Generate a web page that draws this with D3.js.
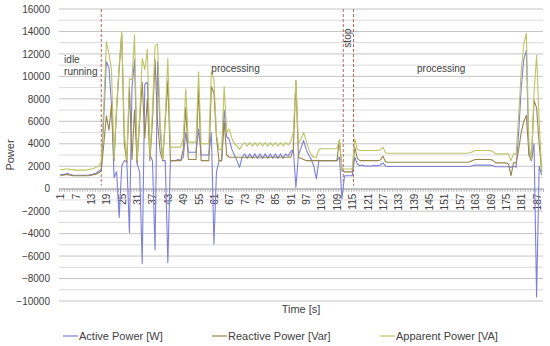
<!DOCTYPE html>
<html>
<head>
<meta charset="utf-8">
<script src="https://cdn.jsdelivr.net/npm/d3@7"></script>
<style>
  body { margin: 0; background: #fff; }
  text { font-family: "Liberation Sans", Arial, sans-serif; fill: #404040; }
</style>
</head>
<body>
<div class="chart"></div>
<script>
// one value per second
const activePower = [
  1250,1250,1300,1350,1250,1200,1200,1200,1200,1200,
  1200,1200,1250,1300,1400,1550,1700,6400,11300,10800,
  7500,1000,1500,-2570,2000,2500,2400,-3900,9000,11500,
  2200,1500,-6680,9300,9500,3000,2500,-5450,11300,5000,
  2500,2500,-6600,2500,2500,2500,2600,2500,2800,5000,
  3250,3250,3250,3250,5300,3000,3000,3000,3000,5000,
  -4950,1500,2500,2500,7000,4600,4400,3500,3000,2500,
  1900,2800,3100,2700,3100,2700,3100,2700,3100,2700,
  3100,2700,3100,2700,3100,2700,3100,2700,3100,2900,
  3300,3500,120,3000,3600,4300,3500,3000,2600,2000,
  870,2500,2500,2500,2500,2500,2500,2500,2500,2800,
  -920,1150,1150,1150,1150,2800,2200,2050,2100,2000,
  2050,2000,2050,2050,2050,2100,2300,2000,1970,1970,
  1970,1970,1970,1970,1970,1970,1970,1970,1970,1970,
  1970,1970,1970,1970,1970,1970,1970,1970,1970,1970,
  1970,1970,1970,1970,1970,1970,1970,1970,1970,1970,
  2000,2050,2100,2100,2100,2100,2100,2100,2100,2050,
  1950,1950,1950,1950,1950,1950,1900,2000,1900,5000,
  9000,11500,12340,3000,2500,4000,-9650,2000,1200
]
const reactivePower = [
  1200,1200,1250,1250,1200,1150,1150,1150,1150,1150,
  1150,1150,1200,1250,1300,1400,1600,4000,6500,5200,
  7500,2500,7000,10700,13800,4000,2300,9000,2600,7000,
  2300,6000,9500,4500,8000,2500,6000,11500,5800,3300,
  2500,6000,9600,2500,2500,2500,2500,2500,3500,7200,
  2600,2600,2600,2600,9000,2500,2500,2500,2500,9100,
  8500,4500,2500,2500,6000,3000,2800,2800,2800,2800,
  2800,2800,2800,2800,2800,2800,2800,2800,2800,2800,
  2800,2800,2800,2800,2800,2800,2800,2800,2800,2800,
  2800,3500,9600,2800,2700,2600,2500,2500,2500,2500,
  2500,2500,2500,2500,2500,2500,2500,2500,2500,4300,
  1600,1500,1500,1500,1500,3700,2700,2500,2500,2500,
  2500,2500,2500,2500,2500,2550,2900,2400,2350,2350,
  2350,2350,2350,2350,2350,2350,2350,2350,2350,2350,
  2350,2350,2350,2350,2350,2350,2350,2350,2350,2350,
  2350,2350,2350,2350,2350,2350,2350,2350,2350,2350,
  2400,2500,2600,2600,2600,2600,2600,2600,2600,2500,
  2300,2300,2300,2300,2300,2200,1160,2300,2300,3500,
  5000,6000,6530,3100,2500,7870,7200,4000,1500
]
const apparentPower = [
  1700,1700,1750,1750,1700,1700,1650,1650,1650,1650,
  1650,1700,1750,1800,1900,2000,2400,7500,13100,12000,
  10600,2700,7500,11000,14000,5000,2600,9800,9700,13700,
  2600,6500,11600,10600,12400,2900,7000,12700,12900,6000,
  2600,6500,11600,3700,3700,3700,3700,3700,4500,8900,
  4150,4150,4150,4150,10400,4000,4000,4000,4000,10400,
  9800,4800,3500,3500,9100,5000,5300,4500,4000,3800,
  3500,3900,4100,3800,4100,3800,4100,3800,4100,3800,
  4100,3800,4100,3800,4100,3800,4100,3800,4100,3900,
  4200,5000,9650,4000,4400,5000,4300,3500,3000,2800,
  2800,3500,3550,3550,3550,3550,3550,3550,3550,4400,
  1800,1750,1750,1750,1750,4450,3500,3400,3400,3400,
  3400,3400,3400,3400,3400,3450,3700,3200,3160,3160,
  3160,3160,3160,3160,3160,3160,3160,3160,3160,3160,
  3160,3160,3160,3160,3160,3160,3160,3160,3160,3160,
  3160,3160,3160,3160,3160,3160,3160,3160,3160,3160,
  3200,3300,3400,3400,3400,3400,3400,3400,3400,3300,
  3100,3100,3100,3100,3100,3100,2500,3100,3100,6500,
  10500,12900,13830,4000,2600,8500,11900,6000,1500
]
const seconds = d3.range(1, activePower.length + 1)
const xTickLabels = d3.range(1, 190, 6)
const yTicks = d3.range(-10000, 16001, 2000)
const phaseMarks = [17, 111.5, 115.5]
const phaseLabels = [
  { lines: ["idle", "running"], at: 2.5, value: 11200 },
  { lines: ["processing"], at: 60, value: 10400 },
  { lines: ["processing"], at: 140.3, value: 10400 },
]

const seriesList = [
  { name: "Active Power [W]", values: activePower, color: "#7f7fd8" },
  { name: "Reactive Power [Var]", values: reactivePower, color: "#97854c" },
  { name: "Apparent Power [VA]", values: apparentPower, color: "#bcc466" },
]

const dimensions = {
  width: 550,
  height: 346,
  margin: { top: 9, right: 7, bottom: 45, left: 59 },
}
dimensions.boundedWidth = dimensions.width - dimensions.margin.left - dimensions.margin.right
dimensions.boundedHeight = dimensions.height - dimensions.margin.top - dimensions.margin.bottom

const wrapper = d3.select(".chart")
  .append("svg")
  .attr("width", dimensions.width)
  .attr("height", dimensions.height)

const bounds = wrapper.append("g")
  .attr("transform", `translate(${dimensions.margin.left},${dimensions.margin.top})`)

const xScale = d3.scaleLinear()
  .domain([0.5, seconds.length + 0.5])
  .range([0, dimensions.boundedWidth])

const yScale = d3.scaleLinear()
  .domain([-10000, 16000])
  .range([dimensions.boundedHeight, 0])

// grid every 1000, labelled ones a bit darker
bounds.append("g").selectAll("line")
  .data(d3.range(-10000, 16001, 1000))
  .enter().append("line")
  .attr("x1", 0)
  .attr("x2", dimensions.boundedWidth)
  .attr("y1", d => yScale(d))
  .attr("y2", d => yScale(d))
  .attr("stroke", d => d % 2000 === 0 ? "#c4c4c4" : "#dadada")
  .attr("stroke-width", 1)

const yAxis = bounds.append("g")
  .call(d3.axisLeft(yScale).tickValues(yTicks).tickSize(0).tickPadding(9).tickFormat(d3.format("d")))
yAxis.select(".domain").remove()
yAxis.selectAll("text").style("font-size", "10px").style("font-family", "Liberation Sans, Arial, sans-serif").attr("fill", "#404040")

// x axis sits on zero
const xAxis = bounds.append("g")
  .attr("transform", `translate(0,${yScale(0)})`)
xAxis.call(d3.axisBottom(xScale).tickValues(d3.range(0.5, seconds.length + 1, 1)).tickSize(3).tickFormat(""))
xAxis.selectAll("line").attr("stroke", "#b0b0b0")
xAxis.select(".domain").attr("stroke", "#b0b0b0")

const xLabels = bounds.append("g")
  .attr("transform", `translate(0,${yScale(0)})`)
  .call(d3.axisBottom(xScale).tickValues(xTickLabels).tickSize(0).tickFormat(d3.format("d")))
xLabels.select(".domain").remove()
xLabels.selectAll("text")
  .attr("transform", "rotate(-90)")
  .attr("text-anchor", "end")
  .attr("x", -5)
  .attr("y", 0)
  .attr("dy", "0.35em")
  .style("font-size", "10px")
  .style("font-family", "Liberation Sans, Arial, sans-serif")
  .attr("fill", "#404040")

// phase borders
bounds.selectAll(".phase")
  .data(phaseMarks)
  .enter().append("line")
  .attr("x1", d => xScale(d))
  .attr("x2", d => xScale(d))
  .attr("y1", 0)
  .attr("y2", yScale(0) - 3)
  .attr("stroke", "#b5655c")
  .attr("stroke-width", 1)
  .attr("stroke-dasharray", "3 2")

const lineGenerator = d3.line()
  .x((d, i) => xScale(seconds[i]))
  .y(d => yScale(d))

seriesList.forEach(s => {
  bounds.append("path")
    .attr("d", lineGenerator(s.values))
    .attr("fill", "none")
    .attr("stroke", s.color)
    .attr("stroke-width", 1.1)
    .attr("stroke-linejoin", "round")
})

phaseLabels.forEach(p => {
  const t = bounds.append("text")
    .attr("x", xScale(p.at))
    .attr("y", yScale(p.value))
    .style("font-size", "10px")
  p.lines.forEach((l, k) => {
    t.append("tspan").attr("x", xScale(p.at)).attr("dy", k === 0 ? 0 : 12).text(l)
  })
})

bounds.append("text")
  .attr("transform", `translate(${xScale(113.5) + 3},${yScale(13400)}) rotate(-90)`)
  .attr("text-anchor", "middle")
  .style("font-size", "10px")
  .text("stop")

wrapper.append("text")
  .attr("transform", "translate(14,155) rotate(-90)")
  .attr("text-anchor", "middle")
  .style("font-size", "11px")
  .text("Power")

wrapper.append("text")
  .attr("x", 301)
  .attr("y", 313)
  .attr("text-anchor", "middle")
  .style("font-size", "11px")
  .text("Time [s]")

const legend = wrapper.append("g")
const legendX = [63, 212, 380]
seriesList.forEach((s, i) => {
  legend.append("line")
    .attr("x1", legendX[i])
    .attr("x2", legendX[i] + 15)
    .attr("y1", 336)
    .attr("y2", 336)
    .attr("stroke", s.color)
    .attr("stroke-width", 1.2)
  legend.append("text")
    .attr("x", legendX[i] + 16)
    .attr("y", 340)
    .style("font-size", "11px")
    .text(s.name)
})
</script>
</body>
</html>
